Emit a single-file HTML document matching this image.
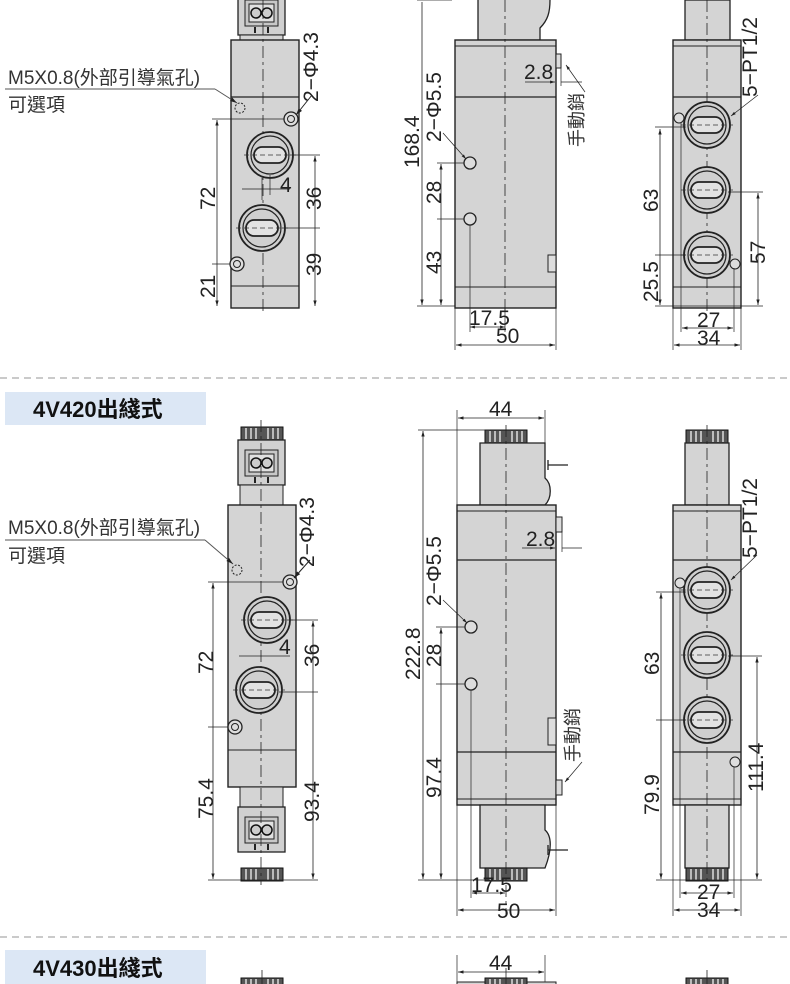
<!DOCTYPE html>
<html><head><meta charset="utf-8"><style>
html,body{margin:0;padding:0;background:#fff}
svg{display:block}
.t{font-family:"Liberation Sans Narrow","Liberation Sans",sans-serif;font-size:21px;fill:#222}
.c{font-family:"Liberation Sans","Noto Sans CJK TC",sans-serif;fill:#333}
</style></head><body>
<svg width="790" height="984" viewBox="0 0 790 984" xmlns="http://www.w3.org/2000/svg">
<defs>
<marker id="a" viewBox="0 0 10 10" refX="10" refY="5" markerWidth="7" markerHeight="7" orient="auto-start-reverse"><path d="M0,2 L10,5 L0,8 z" fill="#222"/></marker>
<g id="port"><circle r="23" fill="#cfcfcf" stroke="#222" stroke-width="1.8"/><circle r="19" fill="none" stroke="#222" stroke-width="1.2"/><rect x="-16" y="-8" width="32" height="16" rx="8" fill="#e2e2e2" stroke="#222" stroke-width="1.8"/><line x1="-26" y1="0" x2="26" y2="0" stroke="#333" stroke-width="0.8" stroke-dasharray="5,3"/></g>
<g id="hole"><circle r="7" fill="#ddd" stroke="#222" stroke-width="1.3"/><circle r="3.5" fill="none" stroke="#222"/></g>
<g id="cap"><rect x="0" y="0" width="42" height="13" fill="#555" stroke="#111"/><path d="M5 1v11M10 1v11M15 1v11M27 1v11M32 1v11M37 1v11" stroke="#ddd" stroke-width="1.5"/></g>
<g id="conn"><rect x="0" y="0" width="47" height="45" fill="#d0d0d0" stroke="#222" stroke-width="1.3"/><rect x="7" y="10" width="33" height="26" fill="#c8c8c8" stroke="#222"/><rect x="11" y="14" width="25" height="18" fill="#e0e0e0" stroke="#222"/><circle cx="18" cy="23" r="5" fill="#ccc" stroke="#111" stroke-width="1.5"/><circle cx="29" cy="23" r="5" fill="#ccc" stroke="#111" stroke-width="1.5"/><path d="M17 37v6M30 37v6" stroke="#222" stroke-width="2"/></g>
</defs>
<g stroke="#222" fill="none">

<!-- ===== SECTION 1 ===== -->
<use href="#conn" x="238" y="-10"/>
<rect x="240" y="35" width="43" height="5" fill="#d4d4d4"/>
<rect x="231" y="40" width="68" height="268" fill="#d4d4d4" stroke-width="1.4"/>
<line x1="231" y1="97" x2="299" y2="97" stroke-width="1.3"/>
<line x1="231" y1="286" x2="299" y2="286" stroke-width="1"/>
<line x1="263" y1="0" x2="263" y2="315" stroke-dasharray="12,4,3,4" stroke-width="0.8"/>
<circle cx="240" cy="108" r="5" stroke-dasharray="2,1.5"/>
<use href="#hole" x="291" y="119"/>
<use href="#port" x="270" y="155"/>
<use href="#port" x="262" y="228"/>
<use href="#hole" x="237" y="264"/>
<line x1="5" y1="89" x2="215" y2="89" stroke="#555"/><line x1="215" y1="89" x2="237" y2="103" stroke="#555" marker-end="url(#a)"/>
<line x1="312" y1="95" x2="296" y2="115" marker-end="url(#a)"/>
<line x1="212" y1="119" x2="284" y2="119" stroke-width="0.7"/>
<line x1="217" y1="120" x2="217" y2="306" stroke-width="0.8" marker-start="url(#a)" marker-end="url(#a)"/>
<line x1="212" y1="264" x2="230" y2="264" stroke-width="0.7"/>
<line x1="290" y1="155" x2="320" y2="155" stroke-width="0.7"/>
<line x1="282" y1="228" x2="320" y2="228" stroke-width="0.7"/>
<line x1="315" y1="156" x2="315" y2="306" stroke-width="0.8" marker-start="url(#a)" marker-end="url(#a)"/>
<line x1="242" y1="189" x2="290" y2="189" stroke-width="0.7"/>
<line x1="262" y1="178" x2="262" y2="200" stroke-width="0.7"/>
<line x1="270" y1="175" x2="270" y2="195" stroke-width="0.7"/>
<path d="M478 0V40H540V28C548 20 550 12 550 0" fill="#d4d4d4" stroke-width="1.3"/>
<rect x="455" y="40" width="101" height="268" fill="#d4d4d4" stroke-width="1.4"/>
<line x1="455" y1="46" x2="556" y2="46"/>
<line x1="455" y1="97" x2="556" y2="97" stroke-width="1.3"/>
<line x1="455" y1="287" x2="556" y2="287" stroke-width="1"/>
<line x1="505" y1="0" x2="505" y2="315" stroke-dasharray="12,4,3,4" stroke-width="0.8"/>
<rect x="556" y="54" width="5" height="14" fill="#ddd"/>
<rect x="548" y="255" width="8" height="17" fill="#ddd"/>
<circle cx="470" cy="163" r="6" fill="#ddd" stroke-width="1.3"/>
<circle cx="470" cy="219" r="6" fill="#ddd" stroke-width="1.3"/>
<line x1="443" y1="133" x2="466" y2="159" stroke-width="0.7" marker-end="url(#a)"/>
<line x1="417" y1="0" x2="452" y2="0" stroke-width="0.7"/>
<line x1="417" y1="306" x2="455" y2="306" stroke-width="0.7"/>
<line x1="422" y1="2" x2="422" y2="305" stroke-width="0.8" marker-end="url(#a)"/>
<line x1="437" y1="163" x2="464" y2="163" stroke-width="0.7"/>
<line x1="437" y1="219" x2="464" y2="219" stroke-width="0.7"/>
<line x1="441" y1="164" x2="441" y2="305" stroke-width="0.8" marker-start="url(#a)" marker-end="url(#a)"/>
<line x1="470" y1="225" x2="470" y2="332" stroke-width="0.7"/>
<line x1="505" y1="308" x2="505" y2="332" stroke-width="0.7"/>
<line x1="470" y1="327" x2="505" y2="327" stroke-width="0.7" marker-start="url(#a)" marker-end="url(#a)"/>
<line x1="455" y1="308" x2="455" y2="350" stroke-width="0.7"/><line x1="556" y1="308" x2="556" y2="350" stroke-width="0.7"/>
<line x1="456" y1="345" x2="555" y2="345" stroke-width="0.8" marker-start="url(#a)" marker-end="url(#a)"/>
<line x1="525" y1="82" x2="555" y2="82" stroke-width="0.7" marker-end="url(#a)"/>
<line x1="561" y1="82" x2="582" y2="82" stroke-width="0.7"/>
<line x1="561" y1="68" x2="561" y2="86" stroke-width="0.7"/>
<line x1="585" y1="92" x2="566" y2="65" stroke-width="0.7" marker-end="url(#a)"/>
<rect x="685" y="0" width="45" height="40" fill="#d4d4d4" stroke-width="1.3"/>
<rect x="673" y="40" width="68" height="268" fill="#d4d4d4" stroke-width="1.4"/>
<line x1="673" y1="46" x2="741" y2="46"/>
<line x1="673" y1="97" x2="741" y2="97" stroke-width="1.3"/>
<line x1="673" y1="287" x2="741" y2="287" stroke-width="1"/>
<line x1="707" y1="0" x2="707" y2="315" stroke-dasharray="12,4,3,4" stroke-width="0.8"/>
<use href="#port" x="707" y="125"/><use href="#port" x="707" y="190"/><use href="#port" x="707" y="255"/>
<circle cx="679" cy="118" r="5" fill="#ddd"/><circle cx="735" cy="264" r="5" fill="#ddd"/>
<line x1="758" y1="95" x2="731" y2="116" stroke-width="0.7" marker-end="url(#a)"/>
<line x1="655" y1="127" x2="686" y2="127" stroke-width="0.7"/>
<line x1="655" y1="255" x2="686" y2="255" stroke-width="0.7"/>
<line x1="660" y1="129" x2="660" y2="305" stroke-width="0.8" marker-start="url(#a)" marker-end="url(#a)"/>
<line x1="728" y1="192" x2="763" y2="192" stroke-width="0.7"/>
<line x1="758" y1="193" x2="758" y2="305" stroke-width="0.8" marker-start="url(#a)" marker-end="url(#a)"/>
<line x1="655" y1="306" x2="763" y2="306" stroke-width="0.7"/>
<line x1="681" y1="123" x2="681" y2="332" stroke-width="0.7"/><line x1="734" y1="268" x2="734" y2="332" stroke-width="0.7"/>
<line x1="682" y1="328" x2="733" y2="328" stroke-width="0.8" marker-start="url(#a)" marker-end="url(#a)"/>
<line x1="673" y1="308" x2="673" y2="350" stroke-width="0.7"/><line x1="741" y1="308" x2="741" y2="350" stroke-width="0.7"/>
<line x1="674" y1="345" x2="740" y2="345" stroke-width="0.8" marker-start="url(#a)" marker-end="url(#a)"/>

<line x1="0" y1="378" x2="790" y2="378" stroke="#aaa" stroke-dasharray="7,5" stroke-width="1.3"/>

<!-- ===== SECTION 2 ===== -->
<use href="#cap" x="241" y="427"/>
<use href="#conn" x="238" y="440"/>
<rect x="240" y="485" width="43" height="20" fill="#d4d4d4"/>
<rect x="228" y="505" width="68" height="282" fill="#d4d4d4" stroke-width="1.4"/>
<line x1="228" y1="750" x2="296" y2="750" stroke-width="1"/>
<rect x="240" y="787" width="43" height="20" fill="#d4d4d4"/>
<use href="#conn" x="238" y="807"/>
<use href="#cap" x="241" y="868"/>
<line x1="261" y1="420" x2="261" y2="885" stroke-dasharray="12,4,3,4" stroke-width="0.8"/>
<circle cx="237" cy="570" r="5" stroke-dasharray="2,1.5"/>
<use href="#hole" x="290" y="582"/>
<use href="#port" x="267" y="620"/>
<use href="#port" x="259" y="690"/>
<use href="#hole" x="235" y="727"/>
<line x1="5" y1="540" x2="205" y2="540" stroke="#555"/><line x1="205" y1="540" x2="233" y2="564" stroke="#555" marker-end="url(#a)"/>
<line x1="310" y1="560" x2="294" y2="578" marker-end="url(#a)"/>
<line x1="208" y1="582" x2="283" y2="582" stroke-width="0.7"/>
<line x1="213" y1="583" x2="213" y2="879" stroke-width="0.8" marker-start="url(#a)" marker-end="url(#a)"/>
<line x1="208" y1="727" x2="228" y2="727" stroke-width="0.7"/>
<line x1="287" y1="620" x2="318" y2="620" stroke-width="0.7"/>
<line x1="279" y1="692" x2="318" y2="692" stroke-width="0.7"/>
<line x1="313" y1="621" x2="313" y2="879" stroke-width="0.8" marker-start="url(#a)" marker-end="url(#a)"/>
<line x1="208" y1="880" x2="318" y2="880" stroke-width="0.7"/>
<line x1="239" y1="656" x2="290" y2="656" stroke-width="0.7"/>
<use href="#cap" x="485" y="430"/>
<path d="M480 443H545V478C552 484 552 498 545 505H480Z" fill="#d4d4d4" stroke-width="1.3"/>
<path d="M548 460v10M548 465h20" stroke-width="1.3"/>
<rect x="457" y="505" width="99" height="300" fill="#d4d4d4" stroke-width="1.4"/>
<line x1="457" y1="511" x2="556" y2="511"/>
<line x1="457" y1="560" x2="556" y2="560" stroke-width="1.3"/>
<line x1="457" y1="752" x2="556" y2="752" stroke-width="1.3"/>
<line x1="457" y1="799" x2="556" y2="799"/>
<path d="M480 805H545V830C552 836 552 850 545 868H480Z" fill="#d4d4d4" stroke-width="1.3"/>
<path d="M548 845v10M548 850h20" stroke-width="1.3"/>
<use href="#cap" x="485" y="868"/>
<line x1="506" y1="425" x2="506" y2="915" stroke-dasharray="12,4,3,4" stroke-width="0.8"/>
<rect x="556" y="517" width="6" height="15" fill="#ddd"/>
<rect x="548" y="718" width="8" height="27" fill="#ddd"/>
<rect x="556" y="780" width="6" height="15" fill="#ddd"/>
<circle cx="471" cy="627" r="6" fill="#ddd" stroke-width="1.3"/>
<circle cx="471" cy="684" r="6" fill="#ddd" stroke-width="1.3"/>
<line x1="443" y1="600" x2="467" y2="623" stroke-width="0.7" marker-end="url(#a)"/>
<line x1="457" y1="410" x2="457" y2="505" stroke-width="0.7"/><line x1="545" y1="410" x2="545" y2="443" stroke-width="0.7"/>
<line x1="458" y1="418" x2="544" y2="418" stroke-width="0.8" marker-start="url(#a)" marker-end="url(#a)"/>
<line x1="418" y1="430" x2="490" y2="430" stroke-width="0.7"/>
<line x1="418" y1="880" x2="490" y2="880" stroke-width="0.7"/>
<line x1="423" y1="431" x2="423" y2="879" stroke-width="0.8" marker-start="url(#a)" marker-end="url(#a)"/>
<line x1="436" y1="627" x2="465" y2="627" stroke-width="0.7"/>
<line x1="436" y1="684" x2="465" y2="684" stroke-width="0.7"/>
<line x1="441" y1="628" x2="441" y2="879" stroke-width="0.8" marker-start="url(#a)" marker-end="url(#a)"/>
<line x1="471" y1="690" x2="471" y2="898" stroke-width="0.7"/>
<line x1="472" y1="893" x2="505" y2="893" stroke-width="0.7" marker-start="url(#a)" marker-end="url(#a)"/>
<line x1="457" y1="805" x2="457" y2="916" stroke-width="0.7"/><line x1="556" y1="805" x2="556" y2="916" stroke-width="0.7"/>
<line x1="458" y1="910" x2="555" y2="910" stroke-width="0.8" marker-start="url(#a)" marker-end="url(#a)"/>
<line x1="522" y1="548" x2="555" y2="548" stroke-width="0.7" marker-end="url(#a)"/>
<line x1="562" y1="548" x2="582" y2="548" stroke-width="0.7"/>
<line x1="562" y1="532" x2="562" y2="552" stroke-width="0.7"/>
<line x1="582" y1="762" x2="565" y2="782" stroke-width="0.7" marker-end="url(#a)"/>
<use href="#cap" x="686" y="430"/>
<rect x="685" y="443" width="44" height="62" fill="#d4d4d4" stroke-width="1.3"/>
<rect x="673" y="505" width="68" height="300" fill="#d4d4d4" stroke-width="1.4"/>
<line x1="673" y1="511" x2="741" y2="511"/>
<line x1="673" y1="560" x2="741" y2="560" stroke-width="1.3"/>
<line x1="673" y1="752" x2="741" y2="752" stroke-width="1.3"/>
<line x1="673" y1="799" x2="741" y2="799"/>
<rect x="685" y="805" width="44" height="63" fill="#d4d4d4" stroke-width="1.3"/>
<use href="#cap" x="686" y="868"/>
<line x1="707" y1="425" x2="707" y2="885" stroke-dasharray="12,4,3,4" stroke-width="0.8"/>
<use href="#port" x="707" y="590"/><use href="#port" x="707" y="655"/><use href="#port" x="707" y="720"/>
<circle cx="680" cy="583" r="5" fill="#ddd"/><circle cx="735" cy="762" r="5" fill="#ddd"/>
<line x1="757" y1="555" x2="731" y2="580" stroke-width="0.7" marker-end="url(#a)"/>
<line x1="656" y1="592" x2="686" y2="592" stroke-width="0.7"/>
<line x1="656" y1="720" x2="686" y2="720" stroke-width="0.7"/>
<line x1="661" y1="593" x2="661" y2="879" stroke-width="0.8" marker-start="url(#a)" marker-end="url(#a)"/>
<line x1="728" y1="656" x2="762" y2="656" stroke-width="0.7"/>
<line x1="757" y1="657" x2="757" y2="879" stroke-width="0.8" marker-start="url(#a)" marker-end="url(#a)"/>
<line x1="656" y1="880" x2="762" y2="880" stroke-width="0.7"/>
<line x1="680" y1="588" x2="680" y2="898" stroke-width="0.7"/><line x1="734" y1="767" x2="734" y2="898" stroke-width="0.7"/>
<line x1="681" y1="893" x2="733" y2="893" stroke-width="0.8" marker-start="url(#a)" marker-end="url(#a)"/>
<line x1="673" y1="805" x2="673" y2="916" stroke-width="0.7"/><line x1="741" y1="805" x2="741" y2="916" stroke-width="0.7"/>
<line x1="674" y1="910" x2="740" y2="910" stroke-width="0.8" marker-start="url(#a)" marker-end="url(#a)"/>

<line x1="0" y1="937" x2="790" y2="937" stroke="#aaa" stroke-dasharray="7,5" stroke-width="1.3"/>

<line x1="457" y1="955" x2="457" y2="984" stroke-width="0.7"/><line x1="545" y1="955" x2="545" y2="984" stroke-width="0.7"/>
<line x1="458" y1="972" x2="544" y2="972" stroke-width="0.8" marker-start="url(#a)" marker-end="url(#a)"/>
<rect x="457" y="982" width="99" height="4" fill="#d4d4d4"/>
<use href="#cap" x="241" y="978"/><use href="#cap" x="485" y="978"/><use href="#cap" x="686" y="978"/>
<line x1="262" y1="970" x2="262" y2="984" stroke-width="0.8"/><line x1="506" y1="968" x2="506" y2="984" stroke-width="0.8"/><line x1="707" y1="970" x2="707" y2="984" stroke-width="0.8"/>
</g>

<rect x="5" y="392" width="201" height="33" fill="#dce7f5"/>
<text x="33" y="417" class="c" style="font-size:22px;font-weight:bold;fill:#111">4V420出綫式</text>
<rect x="5" y="950" width="201" height="34" fill="#dce7f5"/>
<text x="33" y="976" class="c" style="font-size:22px;font-weight:bold;fill:#111">4V430出綫式</text>

<text x="8" y="84" class="c" style="font-size:19px">M5X0.8(外部引導氣孔)</text>
<text x="8" y="111" class="c" style="font-size:19px">可選項</text>
<g class="t">
<text transform="translate(318,102) rotate(-90)">2−Φ4.3</text>
<text transform="translate(215,210) rotate(-90)">72</text>
<text transform="translate(215,298) rotate(-90)">21</text>
<text transform="translate(321,210) rotate(-90)">36</text>
<text transform="translate(321,276) rotate(-90)">39</text>
<text x="280" y="192">4</text>
<text transform="translate(419,168) rotate(-90)">168.4</text>
<text transform="translate(441,142) rotate(-90)">2−Φ5.5</text>
<text transform="translate(441,204) rotate(-90)">28</text>
<text transform="translate(441,274) rotate(-90)">43</text>
<text x="524" y="79">2.8</text>
<text x="469" y="325">17.5</text>
<text x="496" y="343">50</text>
<text transform="translate(757,97) rotate(-90)">5−PT1/2</text>
<text transform="translate(658,212) rotate(-90)">63</text>
<text transform="translate(658,302) rotate(-90)">25.5</text>
<text transform="translate(765,264) rotate(-90)">57</text>
<text x="697" y="327">27</text>
<text x="697" y="345">34</text>
</g>
<text transform="translate(583,147) rotate(-90)" class="c" style="font-size:18px">手動銷</text>

<text x="8" y="534" class="c" style="font-size:19px">M5X0.8(外部引導氣孔)</text>
<text x="8" y="562" class="c" style="font-size:19px">可選項</text>
<g class="t">
<text transform="translate(314,567) rotate(-90)">2−Φ4.3</text>
<text transform="translate(213,674) rotate(-90)">72</text>
<text transform="translate(213,819) rotate(-90)">75.4</text>
<text transform="translate(319,667) rotate(-90)">36</text>
<text transform="translate(319,822) rotate(-90)">93.4</text>
<text x="279" y="654">4</text>
<text x="489" y="416">44</text>
<text transform="translate(420,680) rotate(-90)">222.8</text>
<text transform="translate(441,606) rotate(-90)">2−Φ5.5</text>
<text transform="translate(441,667) rotate(-90)">28</text>
<text transform="translate(441,798) rotate(-90)">97.4</text>
<text x="526" y="546">2.8</text>
<text x="471" y="892">17.5</text>
<text x="497" y="918">50</text>
<text transform="translate(757,558) rotate(-90)">5−PT1/2</text>
<text transform="translate(659,675) rotate(-90)">63</text>
<text transform="translate(659,815) rotate(-90)">79.9</text>
<text transform="translate(763,792) rotate(-90)">111.4</text>
<text x="697" y="899">27</text>
<text x="697" y="917">34</text>
<text x="489" y="970">44</text>
</g>
<text transform="translate(579,762) rotate(-90)" class="c" style="font-size:18px">手動銷</text>
</svg>
</body></html>
